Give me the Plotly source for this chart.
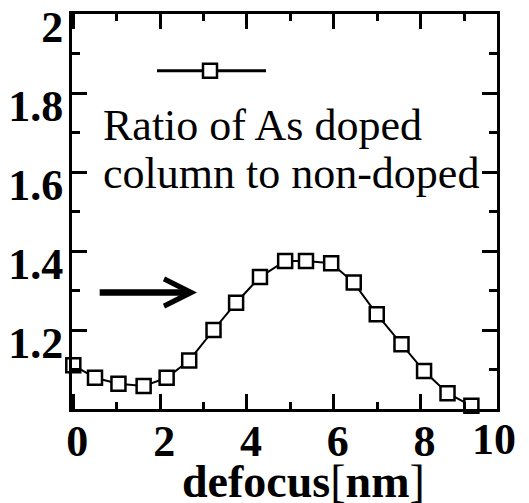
import plotly.graph_objects as go

# data
defocus = [0.0, 0.50, 1.04, 1.62, 2.15, 2.67, 3.23, 3.75, 4.30, 4.88,
           5.36, 5.94, 6.46, 6.99, 7.56, 8.08, 8.62, 9.17]
ratio = [1.111, 1.079, 1.064, 1.058, 1.079, 1.123, 1.200, 1.269, 1.334, 1.375,
         1.375, 1.369, 1.320, 1.240, 1.164, 1.096, 1.040, 1.008]

x_ticks = [0, 2, 4, 6, 8]
x_ticktext = ["0", "2", "4", "6", "8"]
y_ticks = [1.2, 1.4, 1.6, 1.8, 2.0]
y_ticktext = ["1.2", "1.4", "1.6", "1.8", "2"]

FONT = "Liberation Serif, Times New Roman, serif"

fig = go.Figure()
fig.add_trace(go.Scatter(
    x=defocus, y=ratio, mode="lines+markers",
    line=dict(color="black", width=2),
    marker=dict(symbol="square", size=14, color="white",
                line=dict(color="black", width=2.5)),
    showlegend=False, cliponaxis=False,
))

axis_common = dict(
    showline=True, linecolor="black", linewidth=3, mirror="ticks",
    ticks="inside", tickcolor="black", tickwidth=3, ticklen=15,
    showgrid=False, zeroline=False, automargin=False,
    ticklabeloverflow="allow",
    tickfont=dict(family=FONT, size=44, color="black", weight="bold"),
)

fig.update_xaxes(range=[-0.03, 9.76], tickmode="array", tickvals=x_ticks,
                 ticktext=x_ticktext, ticklabelshift=4, ticklabelstandoff=-9,
                 **axis_common)
fig.update_xaxes(minor=dict(ticks="inside", ticklen=7, tickwidth=3,
                            tickcolor="black", dtick=1, tick0=0))
fig.update_yaxes(range=[1.0, 2.0], tickmode="array", tickvals=y_ticks,
                 ticktext=y_ticktext, ticklabelshift=13, ticklabelstandoff=-3,
                 **axis_common)
fig.update_yaxes(minor=dict(ticks="inside", ticklen=8, tickwidth=3,
                            tickcolor="black", dtick=0.1, tick0=1.0))

# legend sample (line with a square marker)
fig.add_shape(type="line", xref="paper", yref="paper",
              x0=0.2, x1=0.4565, y0=0.8565, y1=0.8565,
              line=dict(color="black", width=3))
fig.add_shape(type="rect", xref="paper", yref="paper",
              xsizemode="pixel", ysizemode="pixel",
              xanchor=0.3247, yanchor=0.8565, x0=-7, x1=7, y0=-7, y1=7,
              fillcolor="white", line=dict(color="black", width=2.5))

fig.add_annotation(xref="paper", yref="paper", x=(101 - 72) / 425, y=(409 - 125) / 395,
                   xanchor="left", yanchor="middle", showarrow=False,
                   text="Ratio of As doped",
                   font=dict(family=FONT, size=44, color="black"))
fig.add_annotation(xref="paper", yref="paper", x=(101 - 72) / 425, y=(409 - 173) / 395,
                   xanchor="left", yanchor="middle", showarrow=False,
                   text="column to non-doped",
                   font=dict(family=FONT, size=44, color="black"))

# arrow
fig.add_annotation(x=2.85, y=1.295, ax=0.573, ay=1.295, xref="x", yref="y",
                   axref="x", ayref="y", text="", showarrow=True,
                   arrowhead=5, arrowwidth=6.5, arrowsize=0.82, arrowcolor="black")

# "10" label beyond the axis end
fig.add_annotation(xref="paper", yref="paper", x=(494 - 72) / 425, y=0,
                   xanchor="center", yanchor="top", yshift=-4, showarrow=False, text="10",
                   font=dict(family=FONT, size=44, color="black", weight="bold"))

# axis title
fig.add_annotation(xref="paper", yref="paper", x=(303.5 - 72) / 425, y=0,
                   xanchor="center", yanchor="middle", yshift=-72, showarrow=False,
                   text="defocus<span style='font-weight:normal'>[</span>nm<span style='font-weight:normal'>]</span>",
                   font=dict(family=FONT, size=46, color="black", weight="bold"))

# page has an 8px body margin: size the figure so that it fits the window
fig.update_layout(
    width=521, height=495,
    margin=dict(l=64, r=32, t=6, b=94),
    plot_bgcolor="white", paper_bgcolor="white",
    showlegend=False,
)

fig.write_html("out.html")
